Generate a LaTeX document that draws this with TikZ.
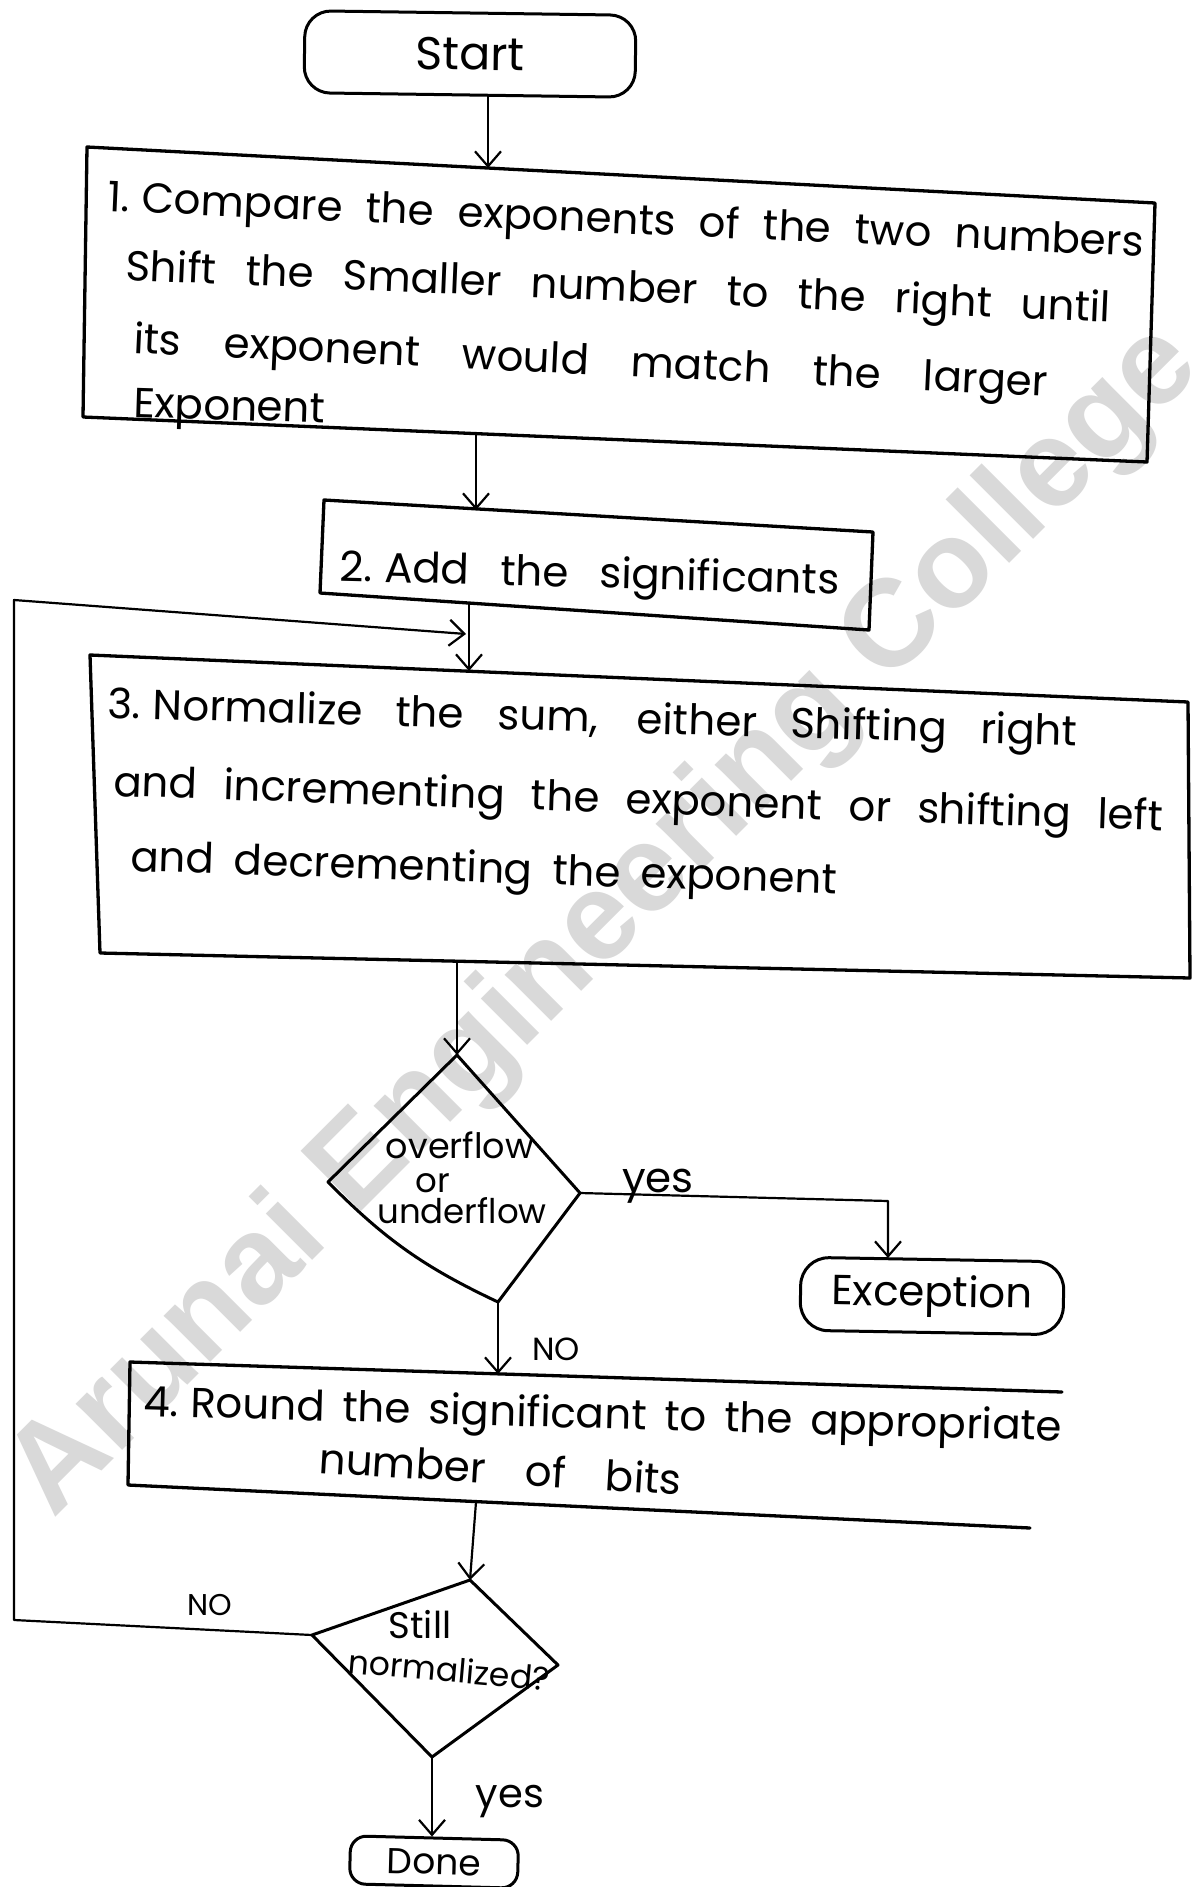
\documentclass[tikz,border=0pt]{standalone}
\usepackage{fontspec}
\usepackage{graphicx}
\setmainfont{Poppins}
\newfontfamily\markfont{Liberation Sans}
\usetikzlibrary{arrows.meta,calc}

% set a line of text to a given width: spread the spaces, or shrink if too long
\newlength\natw
\newcommand\fitline[2]{\settowidth\natw{#2}%
  \ifdim\natw>#1\relax\resizebox{#1}{\height}{#2}\else\makebox[#1][s]{#2}\fi}
% step number followed by a fixed gap
\newcommand\stepno[1]{#1.\kern12pt}

\begin{document}
\begin{tikzpicture}[x=1pt,y=-1pt,line join=round,line cap=round,
  frame/.style={line width=3.3pt},
  link/.style={line width=2.2pt},
  arr/.style={line width=2.2pt,-{Straight Barb[length=15pt,width=26pt]}},
  txt/.style={anchor=base west,inner sep=0pt,font=\fontsize{42}{48}\selectfont},
  lbl/.style={anchor=base,inner sep=0pt},
  term/.style={draw,line width=3pt,inner sep=0pt}]

% page
\fill[white] (0,0) rectangle (1195,1887);
\useasboundingbox (0,0) rectangle (1195,1887);

% watermark
\node[rotate=45,text=black!15,inner sep=0pt,
      font=\markfont\bfseries\fontsize{124}{124}\selectfont] (mark) at (606,922)
      {Arunai Engineering College};

% ---- Start
\node[term,rounded corners=26pt,minimum width=331pt,minimum height=82pt,
      rotate=-0.8,font=\fontsize{46}{46}\selectfont] (start) at (470,54) {Start};

% ---- Step 1
\coordinate (b1tl) at (87,147);  \coordinate (b1tr) at (1155,203);
\coordinate (b1br) at (1147,462); \coordinate (b1bl) at (83,417);
\draw[frame] (b1tl) -- (b1tr) -- (b1br) -- (b1bl) -- cycle;
\coordinate (b1in) at (488,168);
\coordinate (b1out) at (476,434);
\node[txt,rotate=-2.5] (t1a) at (107,211) {\fitline{1037pt}{\stepno{1}Compare the exponents of the two numbers}};
\node[txt,rotate=-2.45] (t1b) at (125,280) {\fitline{986pt}{Shift the Smaller number to the right until}};
\node[txt,rotate=-2.7] (t1c) at (133,353) {\fitline{915pt}{its exponent would match the larger}};
\node[txt,rotate=-1.8] (t1d) at (133,417) {Exponent};

% ---- Step 2
\coordinate (b2tl) at (324,500); \coordinate (b2tr) at (873,532);
\coordinate (b2br) at (869,630); \coordinate (b2bl) at (320,593);
\draw[frame] (b2tl) -- (b2tr) -- (b2br) -- (b2bl) -- cycle;
\coordinate (b2in) at (476,510);
\coordinate (b2out) at (469,603);
\node[txt,rotate=-1.5] (t2) at (339,581) {\fitline{500pt}{\stepno{2}Add the significants}};

% ---- Step 3
\coordinate (b3tl) at (90,655);   \coordinate (b3tr) at (1188,702);
\coordinate (b3br) at (1190,978); \coordinate (b3bl) at (100,953);
\draw[frame] (b3tl) -- (b3tr) -- (b3br) -- (b3bl) -- cycle;
\coordinate (b3in) at (469,671);
\coordinate (b3out) at (457,961);
\node[txt,rotate=-1.65] (t3a) at (107,718) {\fitline{970pt}{\stepno{3}Normalize the sum, either Shifting right}};
\node[txt,rotate=-1.9] (t3b) at (113,796) {\fitline{1050pt}{and incrementing the exponent or shifting left}};
\node[txt,rotate=-1.85] (t3c) at (130,871) {\fitline{707pt}{and decrementing the exponent}};

% ---- overflow test
\coordinate (d1t) at (457,1055); \coordinate (d1l) at (328,1182);
\coordinate (d1b) at (498,1302); \coordinate (d1r) at (580,1193);
\draw[frame,line width=3pt] (d1t) -- (d1l) to[bend right=10] (d1b) -- (d1r) -- cycle;
\node[lbl,font=\fontsize{35}{35}\selectfont] (q1a) at (460,1158) {overflow};
\node[lbl,font=\fontsize{34}{34}\selectfont] (q1b) at (433,1192) {or};
\node[lbl,font=\fontsize{34}{34}\selectfont] (q1c) at (462,1223) {underflow};

% ---- Exception
\node[term,rounded corners=28pt,minimum width=263pt,minimum height=73pt,
      rotate=-1,font=\fontsize{42}{42}\selectfont] (exc) at (932,1296) {Exception};
\coordinate (ycorner) at (888,1201);

% ---- Step 4 (open on the right)
\coordinate (b4tr) at (1062,1392); \coordinate (b4tl) at (130,1362);
\coordinate (b4bl) at (128,1485);  \coordinate (b4br) at (1030,1528);
\draw[frame] (b4tr) -- (b4tl) -- (b4bl) -- (b4br);
\coordinate (b4in) at (498,1374);
\coordinate (b4out) at (476,1502);
\node[txt,rotate=-1.55] (t4a) at (143,1416) {\fitline{919pt}{\stepno{4}Round the significant to the appropriate}};
\node[txt,rotate=-3.5] (t4b) at (318,1473) {\fitline{363pt}{number of bits}};

% ---- normalized test
\coordinate (d2t) at (470,1580); \coordinate (d2l) at (312,1635);
\coordinate (d2b) at (432,1757); \coordinate (d2r) at (558,1665);
\draw[frame,line width=3pt] (d2t) -- (d2l) -- (d2b) -- (d2r) -- cycle;
\node[lbl,font=\fontsize{37}{37}\selectfont] (q2a) at (420,1638) {Still};
\node[txt,font=\fontsize{33}{33}\selectfont,rotate=-5] (q2b) at (347,1673) {normalized?};

% ---- Done
\node[term,rounded corners=16pt,minimum width=168pt,minimum height=48pt,
      rotate=-1.5,font=\fontsize{36}{36}\selectfont] (done) at (434,1862) {Done};

% ---- connectors
\draw[arr] (start.south -| b1in) -- (b1in);
\draw[arr] (b1out) -- (b2in);
\draw[arr] (b2out) -- (b3in);
\draw[arr] (b3out) -- (d1t);
\draw[arr] (d1b) -- (b4in);
\draw[arr] (d1r) -- (ycorner) -- (exc.north -| ycorner);
\draw[arr] (b4out) -- (d2t);
\draw[arr] (d2b) -- (done.north -| d2b);
\coordinate (loopb) at (14,1620);
\coordinate (loopt) at (14,600);
\coordinate (loopin) at (466,634);
\draw[arr] (d2l) -- (loopb) -- (loopt) -- (loopin);

% ---- branch labels
\node[lbl,font=\fontsize{42}{42}\selectfont] (yes1) at (658,1192) {yes};
\node[lbl,font=\fontsize{32}{32}\selectfont] (no1) at (556,1360) {NO};
\node[lbl,font=\fontsize{30}{30}\selectfont] (no2) at (210,1615) {NO};
\node[lbl,font=\fontsize{40}{40}\selectfont] (yes2) at (510,1807) {yes};
\end{tikzpicture}
\end{document}
